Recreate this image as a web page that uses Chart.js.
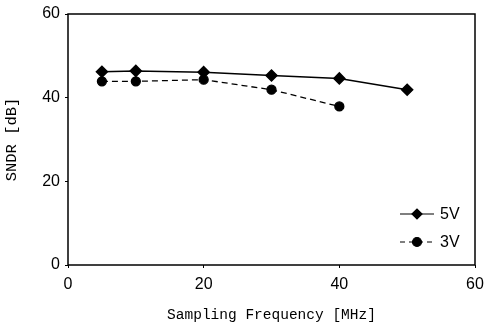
<!DOCTYPE html>
<html>
<head>
<meta charset="utf-8">
<script src="https://cdn.jsdelivr.net/npm/chart.js@4/dist/chart.umd.min.js"></script>
<style>
    html, body { margin: 0; padding: 0; background: #fff; }
    #wrap { width: 485px; height: 329px; }
</style>
</head>
<body>
<div id="wrap"><canvas id="sndrChart"></canvas></div>
<script>
// Data
const freqs5V = [5, 10, 20, 30, 40, 50];
const sndr5V = [46.2, 46.4, 46.1, 45.3, 44.6, 41.9];
const freqs3V = [5, 10, 20, 30, 40];
const sndr3V = [43.9, 43.9, 44.3, 41.9, 37.9];
const xTicks = [0, 20, 40, 60];
const yTicks = [0, 20, 40, 60];
const seriesNames = ['5V', '3V'];

const toPoints = (xs, ys) => xs.map((x, i) => ({ x: x, y: ys[i] }));

const monoFont = { family: "'Liberation Mono', 'DejaVu Sans Mono', monospace", size: 14.5 };
const monoFontY = { family: "'Liberation Mono', 'DejaVu Sans Mono', monospace", size: 15.5 };
const numFont = { family: "'Liberation Sans', Arial, sans-serif", size: 16 };

// Frame around the plot + legend inside the plot
const framePlugin = {
    id: 'frame',
    afterDraw(chart) {
        const { ctx, chartArea: a } = chart;
        ctx.save();
        ctx.strokeStyle = '#000';
        ctx.lineWidth = 1.5;
        ctx.strokeRect(a.left, a.top, a.right - a.left, a.bottom - a.top);

        // legend
        const rows = [
            { label: seriesNames[0], dash: [], style: 'rectRot', r: 5, y: a.bottom - 51 },
            { label: seriesNames[1], dash: [5, 4], style: 'circle', r: 4.5, y: a.bottom - 23 }
        ];
        rows.forEach(row => {
            ctx.setLineDash(row.dash);
            ctx.lineWidth = 1.2;
            ctx.beginPath();
            ctx.moveTo(a.right - 75, row.y);
            ctx.lineTo(a.right - 41, row.y);
            ctx.stroke();
            ctx.setLineDash([]);
            ctx.fillStyle = '#000';
            Chart.helpers.drawPoint(ctx, { pointStyle: row.style, radius: row.r, borderWidth: 1 }, a.right - 58, row.y);
            ctx.font = "16px 'Liberation Sans', Arial, sans-serif";
            ctx.textBaseline = 'middle';
            ctx.fillText(row.label, a.right - 35, row.y + 1);
        });
        ctx.restore();
    }
};

const ctx = document.getElementById('sndrChart').getContext('2d');
const sndrChart = new Chart(ctx, {
    type: 'line',
    data: {
        datasets: [
            {
                label: seriesNames[0],
                data: toPoints(freqs5V, sndr5V),
                borderColor: '#000',
                backgroundColor: '#000',
                borderWidth: 1.5,
                pointStyle: 'rectRot',
                pointRadius: 5.5,
                tension: 0,
                fill: false
            },
            {
                label: seriesNames[1],
                data: toPoints(freqs3V, sndr3V),
                borderColor: '#000',
                backgroundColor: '#000',
                borderWidth: 1.3,
                borderDash: [6, 4],
                pointStyle: 'circle',
                pointRadius: 4.5,
                tension: 0,
                fill: false
            }
        ]
    },
    options: {
        responsive: true,
        maintainAspectRatio: false,
        animation: { duration: 0 },
        layout: { padding: { left: 0, right: 10, top: 14, bottom: 0 } },
        plugins: {
            legend: { display: false },
            tooltip: { enabled: false }
        },
        scales: {
            x: {
                type: 'linear',
                min: 0,
                max: 60,
                afterBuildTicks: s => { s.ticks = xTicks.map(v => ({ value: v })); },
                afterFit: s => { s.height = 64; s.paddingLeft = 0; s.paddingRight = 0; },
                ticks: { color: '#000', font: numFont, padding: 7, maxRotation: 0 },
                grid: { display: true, drawOnChartArea: false, tickLength: 3, color: '#000' },
                border: { display: false },
                title: {
                    display: true,
                    text: 'Sampling Frequency [MHz]',
                    color: '#000',
                    font: monoFont,
                    padding: { top: 0, bottom: 5 }
                }
            },
            y: {
                type: 'linear',
                min: 0,
                max: 60,
                afterBuildTicks: s => { s.ticks = yTicks.map(v => ({ value: v })); },
                afterFit: s => { s.width = 68; s.paddingTop = 0; s.paddingBottom = 0; },
                ticks: { color: '#000', font: numFont, padding: 5 },
                grid: { display: true, drawOnChartArea: false, tickLength: 3, color: '#000' },
                border: { display: false },
                title: {
                    display: true,
                    text: 'SNDR [dB]',
                    color: '#000',
                    font: monoFontY,
                    padding: { top: 3, bottom: 0 }
                }
            }
        }
    },
    plugins: [framePlugin]
});
</script>
</body>
</html>
